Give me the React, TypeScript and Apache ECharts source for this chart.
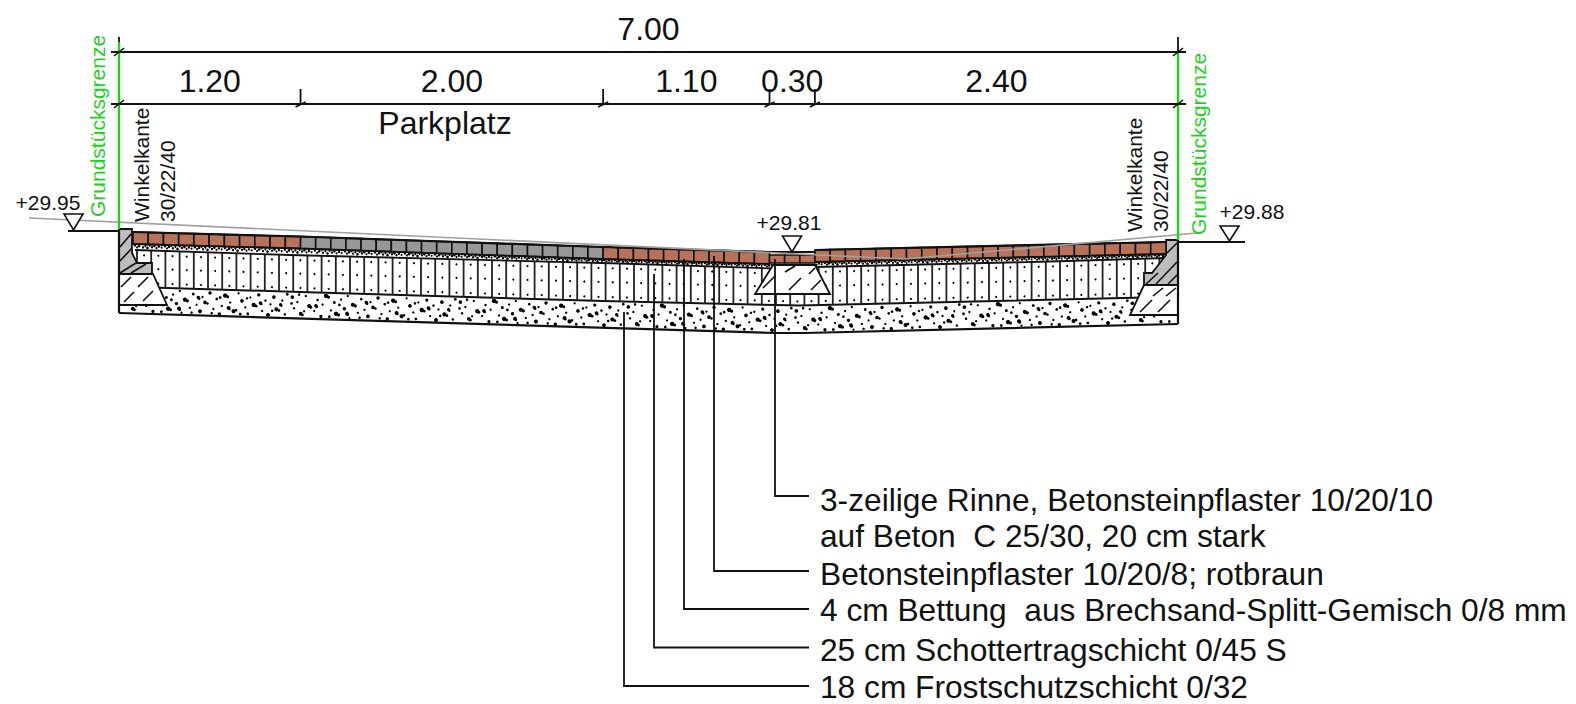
import React, { useEffect, useRef } from "react";
import * as echarts from "echarts";

const FONT = "Liberation Sans, Arial, sans-serif";
const INK = "#111";
const GREEN = "#1fd01f";
const BRICK = "#b8725a";
const GREY = "#979797";
const CURB = "#bdbdbd";

// dimension chain in metres
const TOTAL_WIDTH = 7.0;
const DIM_VALUES = [1.2, 2.0, 1.1, 0.3, 2.4];
const ORIGIN_X = 119;
const END_X = 1178;
const PX_PER_M = (END_X - ORIGIN_X) / TOTAL_WIDTH;

const PARKING_LABEL = "Parkplatz";
const BOUNDARY_LABEL = "Grundstücksgrenze";
const CURB_LABELS = ["Winkelkante", "30/22/40"];
const LEVELS = ["+29.95", "+29.81", "+29.88"];
const CALLOUTS = [
  "3-zeilige Rinne, Betonsteinpflaster 10/20/10",
  "auf Beton  C 25/30, 20 cm stark",
  "Betonsteinpflaster 10/20/8; rotbraun",
  "4 cm Bettung  aus Brechsand-Splitt-Gemisch 0/8 mm",
  "25 cm Schottertragschicht 0/45 S",
  "18 cm Frostschutzschicht 0/32",
];
const CALLOUT_Y = [500, 536, 574, 610, 649.5, 687];

// section profiles, drawing units
const PAVE_LEFT = [[133, 232], [300, 236.5], [603, 247], [770, 252]];
const PAVE_RIGHT = [[815, 250], [1166, 242]];
const GUTTER_TOP = [[770, 252], [815, 252]];
const SCHOTTER_TOP = [[135, 250], [290, 255], [620, 263.5], [773, 268.5], [815, 267], [1050, 261.5], [1166, 258]];
const SCHOTTER_BOTTOM = [[135, 287], [300, 292], [603, 301], [800, 305.5], [1166, 297]];
const FROST_BOTTOM = [[119, 313], [775, 333], [805, 333], [1178, 324]];
const REFERENCE_LINE = [[29, 218], [905, 259], [1197, 233]];

const CURB_LEFT = [[119, 229], [132, 229], [132, 253], [137, 263], [152, 263], [152, 274], [119, 274]];
const CURB_RIGHT = [[1166, 240], [1178, 240], [1178, 285], [1144, 285], [1144, 273], [1152, 273], [1166, 255]];
const FOOT_LEFT = [[119, 274], [153, 274], [167, 305], [119, 305]];
const FOOT_RIGHT = [[1144, 285], [1178, 285], [1178, 315], [1130, 315]];
const FOOT_GUTTER = [[773, 265], [815, 265], [830, 294], [755, 294]];

const CURB_HATCH = [
  [[120, 247], [131, 234]], [[120, 261], [132, 248]], [[120, 273], [136, 263]], [[131, 273], [146, 264]],
  [[1167, 253], [1177, 243]], [[1156, 284], [1177, 262]], [[1168, 284], [1177, 275]], [[1146, 284], [1158, 273]],
];
const FOOT_HATCH = [
  [[121, 287], [131, 277]], [[138, 287], [148, 277]], [[124, 302], [134, 292]], [[143, 301], [153, 291]],
  [[763, 288], [775, 276]], [[785, 272], [795, 266]], [[789, 290], [801, 278]], [[809, 274], [815, 268]], [[811, 290], [821, 280]],
  [[1140, 312], [1152, 300]], [[1158, 312], [1170, 300]], [[1153, 296], [1163, 288]], [[1166, 296], [1176, 288]],
];

const LEVEL_MARKS = [
  { text: 48, textY: 202, x: 73.5, top: 214, tip: 230, from: 68, to: 119 },
  { text: 789, textY: 222, x: 792, top: 236, tip: 252, from: 0, to: 0 },
  { text: 1252, textY: 211, x: 1229.5, top: 226, tip: 241, from: 1178, to: 1245 },
];

// leader lines: x, start y, end y
const LEADERS = [
  [775, 259, 496],
  [714, 256, 571],
  [684, 259, 609],
  [654, 274, 647.5],
  [624, 312, 686],
];
const LEADER_END = 809;

// stipple tiles, hand placed: u, v, radius
const FROST_TILE = [
  [0.02, 0.2, 1.6], [0.03, 0.62, 1.1], [0.05, 0.38, 1], [0.07, 0.82, 1.7], [0.08, 0.86, 1.2], [0.1, 0.14, 1],
  [0.12, 0.52, 1.8], [0.13, 0.56, 1.3], [0.15, 0.7, 1], [0.17, 0.28, 1.1], [0.19, 0.9, 1.4], [0.2, 0.45, 1],
  [0.22, 0.12, 1.9], [0.235, 0.16, 1.4], [0.25, 0.66, 1], [0.27, 0.36, 1.3], [0.28, 0.78, 1.9], [0.295, 0.82, 1.3],
  [0.31, 0.24, 1], [0.33, 0.58, 1.5], [0.35, 0.1, 1], [0.36, 0.92, 1], [0.38, 0.42, 1.8], [0.395, 0.46, 1.4],
  [0.41, 0.72, 1], [0.43, 0.2, 1.2], [0.45, 0.6, 1], [0.47, 0.84, 1.7], [0.485, 0.3, 1], [0.5, 0.5, 1.6],
  [0.515, 0.54, 1.1], [0.53, 0.14, 1.5], [0.55, 0.74, 1], [0.57, 0.36, 1.2], [0.585, 0.92, 1.5], [0.6, 0.62, 1],
  [0.62, 0.22, 1.9], [0.635, 0.26, 1.3], [0.65, 0.48, 1], [0.67, 0.8, 1.8], [0.685, 0.76, 1.1], [0.7, 0.12, 1],
  [0.72, 0.4, 1.6], [0.74, 0.64, 1], [0.755, 0.88, 1.2], [0.77, 0.26, 1], [0.79, 0.54, 1.9], [0.805, 0.58, 1.2],
  [0.82, 0.16, 1.4], [0.84, 0.76, 1], [0.86, 0.36, 1.1], [0.875, 0.9, 1.7], [0.89, 0.5, 1], [0.91, 0.22, 1.6],
  [0.925, 0.68, 1.8], [0.94, 0.72, 1.2], [0.96, 0.34, 1], [0.975, 0.86, 1.1], [0.99, 0.1, 1.2],
  [0.015, 0.44, 1.2], [0.06, 0.1, 1.1], [0.09, 0.72, 1], [0.16, 0.5, 1.5], [0.165, 0.54, 1.2], [0.24, 0.9, 1.2],
  [0.3, 0.44, 1.2], [0.345, 0.76, 1.7], [0.35, 0.8, 1.2], [0.42, 0.9, 1.1], [0.46, 0.32, 1.5], [0.465, 0.36, 1.2],
  [0.54, 0.9, 1.1], [0.59, 0.3, 1.2], [0.64, 0.68, 1.7], [0.645, 0.72, 1.1], [0.71, 0.9, 1.2], [0.75, 0.3, 1.1],
  [0.83, 0.46, 1.6], [0.835, 0.5, 1.1], [0.9, 0.74, 1.1], [0.95, 0.5, 1.4], [0.955, 0.54, 1],
];
const FROST_TILE_WIDTH = 168;
const BED_TILE = [
  [0.03, 0.3, 1.2], [0.1, 0.7, 1], [0.17, 0.4, 1.3], [0.25, 0.2, 0.9], [0.3, 0.65, 1.2], [0.38, 0.35, 1],
  [0.45, 0.75, 1.3], [0.52, 0.25, 1], [0.6, 0.55, 1.2], [0.68, 0.3, 1.3], [0.75, 0.7, 1], [0.83, 0.4, 1.2], [0.92, 0.6, 1],
];
const BED_TILE_WIDTH = 30;

const PAVER_W = PX_PER_M * 0.1;
const CELL_W = 14.2;
const PAVER_H = 12;

const at = (poly: number[][], x: number) => {
  for (let i = 1; i < poly.length; i++) {
    if (x <= poly[i][0]) {
      const [x0, y0] = poly[i - 1];
      const [x1, y1] = poly[i];
      return y0 + ((y1 - y0) * (x - x0)) / (x1 - x0);
    }
  }
  return poly[poly.length - 1][1];
};
const lower = (poly: number[][], h: number) => poly.map(([x, y]) => [x, y + h]);

function layer(z: number, build: (P: (p: number[]) => number[]) => any[]) {
  return {
    type: "custom",
    coordinateSystem: "cartesian2d",
    silent: true,
    clip: false,
    z,
    data: [[0, 0]],
    renderItem: (_: any, api: any) => {
      const P = (p: number[]) => api.coord(p);
      return { type: "group", children: build(P) };
    },
  };
}

function App() {
  const ref = useRef<HTMLDivElement>(null);
  useEffect(() => {
    const chart = echarts.init(ref.current!, undefined, { renderer: "svg" });

    const line = (P: any, pts: number[][], w = 1.8, color = INK) => ({
      type: "polyline",
      shape: { points: pts.map(P) },
      style: { stroke: color, lineWidth: w, fill: "none" },
    });
    const poly = (P: any, pts: number[][], fill: string, w = 1.8) => ({
      type: "polygon",
      shape: { points: pts.map(P) },
      style: { stroke: INK, lineWidth: w, fill },
    });
    const dot = (P: any, x: number, y: number, r: number) => {
      const [cx, cy] = P([x, y]);
      return { type: "circle", shape: { cx, cy, r }, style: { fill: "#000" } };
    };
    const text = (P: any, s: string, x: number, y: number, size: number, opt: any = {}) => {
      const [px, py] = P([x, y]);
      return {
        type: "text",
        x: px,
        y: py,
        rotation: opt.rotate ? Math.PI / 2 : 0,
        style: {
          text: s,
          fontSize: size,
          fontFamily: FONT,
          fill: opt.color || "#111",
          align: opt.align || "center",
          verticalAlign: "middle",
          textAlign: opt.align || "center",
          textVerticalAlign: "middle",
        },
      };
    };

    const pavers = (P: any, top: number[][], x0: number, x1: number, color: string, inset = 0, h = PAVER_H) => {
      const out: any[] = [];
      const n = Math.round((x1 - x0) / PAVER_W);
      const w = (x1 - x0) / n;
      for (let i = 0; i < n; i++) {
        const a = x0 + i * w;
        const b = a + w;
        out.push(
          poly(
            P,
            [
              [a, at(top, a) + inset],
              [b, at(top, b) + inset],
              [b, at(top, b) + h],
              [a, at(top, a) + h],
            ],
            color,
            1.6,
          ),
        );
      }
      return out;
    };

    const dimX: number[] = [ORIGIN_X];
    DIM_VALUES.forEach((v, i) => dimX.push(ORIGIN_X + DIM_VALUES.slice(0, i + 1).reduce((a, b) => a + b, 0) * PX_PER_M));

    const frost = layer(1, (P) => {
      const out: any[] = [];
      const tiles = Math.ceil((END_X - ORIGIN_X) / FROST_TILE_WIDTH);
      for (let t = 0; t < tiles; t++) {
        FROST_TILE.forEach(([u, v, r]) => {
          const x = ORIGIN_X + 2 + (t + u) * FROST_TILE_WIDTH;
          if (x > END_X - 2) return;
          const top = at(SCHOTTER_BOTTOM, x);
          const bot = at(FROST_BOTTOM, x);
          out.push(dot(P, x, top + (bot - top) * v, r * 1.15));
        });
      }
      out.push(line(P, SCHOTTER_BOTTOM, 2));
      out.push(line(P, FROST_BOTTOM, 2.2));
      return out;
    });

    const schotter = layer(2, (P) => {
      const out: any[] = [];
      for (let x = 137; x < 1166; x += CELL_W) {
        const t = at(SCHOTTER_TOP, x);
        const b = at(SCHOTTER_BOTTOM, x);
        out.push(line(P, [[x, t], [x, b]], 1.8, "#222"));
        const mx = x + CELL_W / 2;
        const mt = at(SCHOTTER_TOP, mx);
        const mb = at(SCHOTTER_BOTTOM, mx);
        [mt + 5, (mt + mb) / 2, mb - 4].forEach((y) => out.push(dot(P, mx, y, 1)));
      }
      out.push(line(P, SCHOTTER_TOP, 1.8));
      return out;
    });

    const bedding = layer(3, (P) => {
      const out: any[] = [];
      for (let t = 0; t < 35; t++) {
        BED_TILE.forEach(([u, v, r]) => {
          const x = 134 + (t + u) * BED_TILE_WIDTH;
          if (x > 1165) return;
          const a = x < dimX[3] ? at(PAVE_LEFT, x) + PAVER_H : x < dimX[4] ? 264 : at(PAVE_RIGHT, x) + PAVER_H;
          const b = at(SCHOTTER_TOP, x);
          out.push(dot(P, x, a + Math.max(b - a, 2) * v * 0.8, r));
        });
      }
      return out;
    });

    const concrete = layer(4, (P) => {
      const out: any[] = [
        poly(P, FOOT_LEFT, "#fff"),
        poly(P, FOOT_RIGHT, "#fff"),
        poly(P, FOOT_GUTTER, "#fff"),
        poly(P, CURB_LEFT, CURB),
        poly(P, CURB_RIGHT, CURB),
      ];
      CURB_HATCH.forEach((s) => out.push(line(P, s, 1.6)));
      FOOT_HATCH.forEach((s) => out.push(line(P, s, 1.6)));
      return out;
    });

    const paving = layer(5, (P) => [
      ...pavers(P, PAVE_LEFT, 133, dimX[1], BRICK),
      ...pavers(P, PAVE_LEFT, dimX[1], dimX[2], GREY),
      ...pavers(P, PAVE_LEFT, dimX[2], dimX[3], BRICK),
      ...pavers(P, GUTTER_TOP, dimX[3], dimX[4], BRICK, 3, 11),
      ...pavers(P, PAVE_RIGHT, dimX[4], 1166, BRICK),
      line(P, PAVE_LEFT, 2.2),
      line(P, GUTTER_TOP, 2.2),
      line(P, PAVE_RIGHT, 2.2),
      line(P, lower(PAVE_LEFT, PAVER_H), 1.8),
      line(P, lower(PAVE_RIGHT, PAVER_H), 1.8),
    ]);

    const annotations = layer(6, (P) => {
      const out: any[] = [line(P, REFERENCE_LINE, 1.6, "#a0a0a0")];
      // boundary and curb edges
      out.push(line(P, [[ORIGIN_X, 37], [ORIGIN_X, 52]], 1.8));
      out.push(line(P, [[END_X, 37], [END_X, 52]], 1.8));
      out.push(line(P, [[ORIGIN_X, 229], [ORIGIN_X, 313]], 2.2));
      out.push(line(P, [[END_X, 240], [END_X, 324]], 2.2));
      out.push(line(P, [[ORIGIN_X, 42], [ORIGIN_X, 229]], 2.4, GREEN));
      out.push(line(P, [[END_X, 52], [END_X, 240]], 2.4, GREEN));
      // dimension chain
      [52, 104].forEach((y) => {
        out.push(line(P, [[ORIGIN_X - 8, y], [END_X + 8, y]], 2));
        [ORIGIN_X, END_X].forEach((x) => out.push(line(P, [[x - 5, y + 4], [x + 5, y - 4]], 1.6)));
      });
      dimX.slice(1, -1).forEach((x) => {
        out.push(line(P, [[x, 89], [x, 105]], 1.8));
        out.push(line(P, [[x - 5, 107], [x + 5, 102]], 1.8));
      });
      out.push(text(P, TOTAL_WIDTH.toFixed(2), 648.5, 28.5, 32));
      DIM_VALUES.forEach((v, i) => {
        out.push(text(P, v.toFixed(2), (dimX[i] + dimX[i + 1]) / 2, 80.5, 32));
      });
      out.push(text(P, PARKING_LABEL, 445, 122.5, 32));
      // rotated labels
      out.push(text(P, BOUNDARY_LABEL, 97, 217, 21, { rotate: true, align: "left", color: GREEN }));
      out.push(text(P, BOUNDARY_LABEL, 1198, 235, 21, { rotate: true, align: "left", color: GREEN }));
      out.push(text(P, CURB_LABELS[0], 141, 222, 21, { rotate: true, align: "left" }));
      out.push(text(P, CURB_LABELS[1], 167, 222, 21, { rotate: true, align: "left" }));
      out.push(text(P, CURB_LABELS[0], 1134, 232, 21, { rotate: true, align: "left" }));
      out.push(text(P, CURB_LABELS[1], 1160, 232, 21, { rotate: true, align: "left" }));
      // level symbols
      LEVEL_MARKS.forEach((m, i) => {
        out.push(poly(P, [[m.x - 9.5, m.top], [m.x + 9.5, m.top], [m.x, m.tip]], "#fff", 1.6));
        if (m.to > m.from) out.push(line(P, [[m.from, m.tip + 1], [m.to, m.tip + 1]], 1.8));
        out.push(text(P, LEVELS[i], m.text, m.textY, 21));
      });
      // leaders
      LEADERS.forEach(([x, y0, y1]) => out.push(line(P, [[x, y0], [x, y1], [LEADER_END, y1]], 1.8)));
      CALLOUTS.forEach((s, i) => out.push(text(P, s, 820, CALLOUT_Y[i], 31.7, { align: "left" })));
      return out;
    });

    chart.setOption({
      animation: false,
      backgroundColor: "#fff",
      grid: { left: 0, right: 0, top: 0, bottom: 0 },
      xAxis: { type: "value", min: 0, max: 1576, show: false },
      yAxis: { type: "value", min: 0, max: 704, inverse: true, show: false },
      series: [frost, schotter, bedding, concrete, paving, annotations],
    });
    return () => chart.dispose();
  }, []);
  return <div ref={ref} style={{ position: "fixed", left: 0, top: 0, width: 1576, height: 704 }} />;
}

export default App;
